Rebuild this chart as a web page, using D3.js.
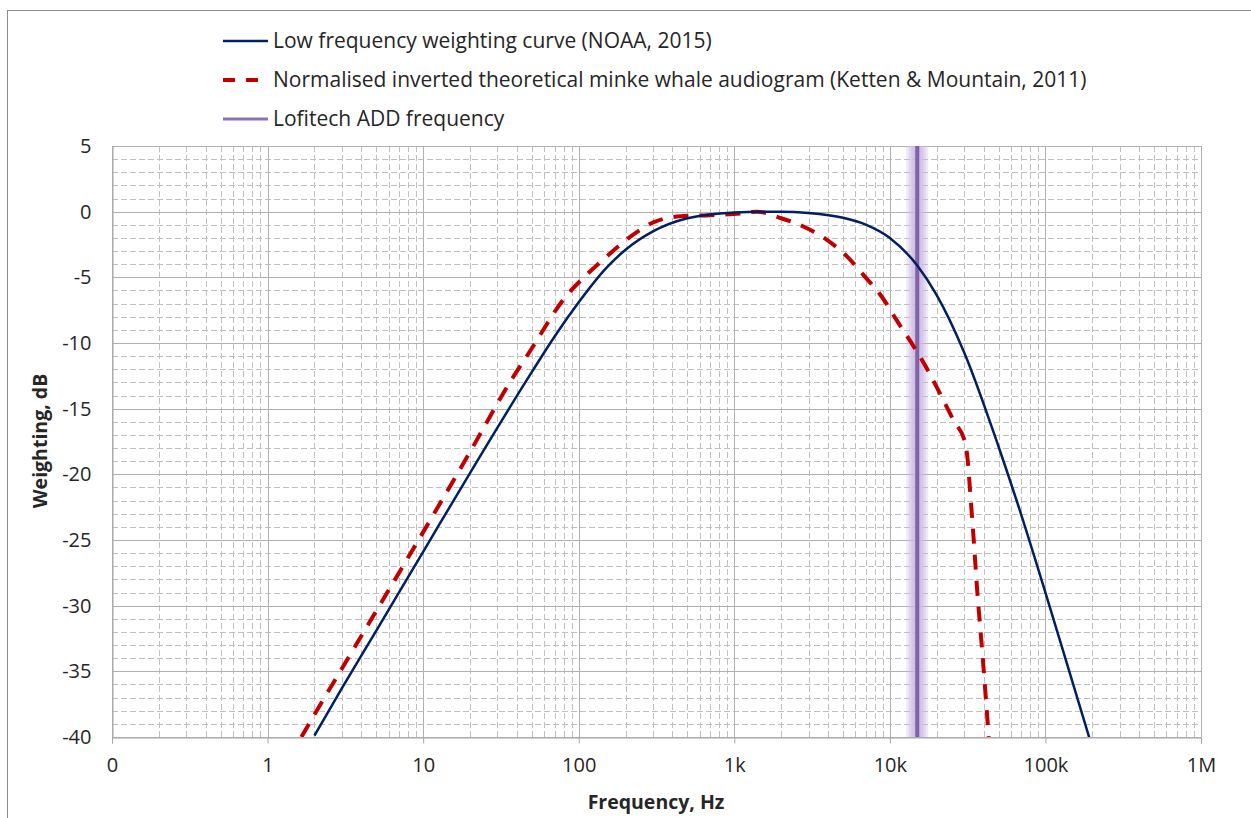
<!DOCTYPE html>
<html>
<head>
<meta charset="utf-8">
<script src="https://cdn.jsdelivr.net/npm/d3@7"></script>
<style>
  body { margin: 0; background: #fff; }
  text { font-family: "Open Sans", "Noto Sans", sans-serif; fill: #262626; }
</style>
</head>
<body>
<div id="chart"></div>
<script>
// Data
var noaaFreq = [2, 3, 5, 10, 20, 50, 70, 100, 150, 200, 300, 500, 1000, 1500, 2000, 3000, 5000, 7000, 10000, 15000, 20000, 30000, 50000, 70000, 100000, 150000, 200000];
var noaaDb = [-39.9, -36.3, -31.9, -25.9, -19.9, -12.2, -9.5, -6.9, -4.3, -2.9, -1.5, -0.5, -0.06, 0, 0, -0.1, -0.46, -0.98, -2.0, -4.1, -6.35, -10.7, -17.9, -23.1, -29.0, -35.9, -40.8];

var minkeFreq = [1.65, 2, 3, 5, 10, 20, 36.5, 50, 82, 108, 152, 215, 304, 450, 700, 1100, 1400, 2000, 2800, 4000, 5300, 6800, 8900, 11100, 14300, 17400, 21100, 25700, 30500, 31500, 33000, 34600, 36400, 39200, 43200];
var minkeDb = [-40, -38.3, -34.8, -30.4, -24.4, -18.3, -12.9, -10.4, -6.5, -5.0, -3.4, -1.9, -0.8, -0.35, -0.27, -0.14, 0, -0.5, -1.15, -2.2, -3.4, -4.85, -6.5, -8.3, -10.3, -12.0, -13.9, -15.9, -17.6, -18.7, -21.7, -25.0, -28.8, -33.4, -40];

var addFreq = 15000;

var xTickValues = [0.1, 1, 10, 100, 1000, 10000, 100000, 1000000];
var xTickLabels = ["0", "1", "10", "100", "1k", "10k", "100k", "1M"];
var yTickValues = [-40, -35, -30, -25, -20, -15, -10, -5, 0, 5];

var legendLabels = [
  "Low frequency weighting curve (NOAA, 2015)",
  "Normalised inverted theoretical minke whale audiogram (Ketten & Mountain, 2011)",
  "Lofitech ADD frequency"
];

// Set up SVG
var svgWidth = 1251;
var svgHeight = 818;
var plot = { left: 112, right: 1201, top: 146, bottom: 737 };

var svg = d3.select("#chart")
  .append("svg")
  .attr("width", svgWidth)
  .attr("height", svgHeight);

// outer chart border (runs off the page on the right and bottom)
svg.append("rect")
  .attr("x", 7.5).attr("y", 10.5)
  .attr("width", 1300).attr("height", 900)
  .attr("fill", "none")
  .attr("stroke", "#8c8c8c");

var x = d3.scaleLog().domain([0.1, 1e6]).range([plot.left, plot.right]);
var y = d3.scaleLinear().domain([-40, 5]).range([plot.bottom, plot.top]);

// Grid
var grid = svg.append("g");

var minorX = [];
for (var d = 0.1; d < 1e6; d *= 10) {
  for (var k = 2; k <= 9; k++) minorX.push(d * k);
}
var minorY = d3.range(-40, 6).filter(v => v % 5 !== 0);

grid.selectAll(".minor-x").data(minorX).enter().append("line")
  .attr("x1", d => Math.round(x(d)) + 0.5).attr("x2", d => Math.round(x(d)) + 0.5)
  .attr("y1", plot.top).attr("y2", plot.bottom)
  .attr("stroke", "#c0c0c0").attr("stroke-dasharray", "6,3");

grid.selectAll(".minor-y").data(minorY).enter().append("line")
  .attr("y1", d => Math.round(y(d)) + 0.5).attr("y2", d => Math.round(y(d)) + 0.5)
  .attr("x1", plot.left).attr("x2", plot.right)
  .attr("stroke", "#c0c0c0").attr("stroke-dasharray", "6,3");

grid.selectAll(".major-x").data(xTickValues).enter().append("line")
  .attr("x1", d => Math.round(x(d)) + 0.5).attr("x2", d => Math.round(x(d)) + 0.5)
  .attr("y1", plot.top).attr("y2", plot.bottom)
  .attr("stroke", "#b0b0b0");

grid.selectAll(".major-y").data(yTickValues).enter().append("line")
  .attr("y1", d => Math.round(y(d)) + 0.5).attr("y2", d => Math.round(y(d)) + 0.5)
  .attr("x1", plot.left).attr("x2", plot.right)
  .attr("stroke", "#b0b0b0");

// Axes
var bottomAxis = d3.axisBottom(x)
  .tickValues(xTickValues)
  .tickFormat((d, i) => xTickLabels[i])
  .tickSize(6)
  .tickPadding(14);

var xAxis = svg.append("g")
  .attr("transform", `translate(0, ${plot.bottom + 0.5})`)
  .call(bottomAxis);
xAxis.select(".domain").attr("stroke", "#a6a6a6");
xAxis.selectAll(".tick line").attr("stroke", "#a6a6a6");
xAxis.selectAll("text").style("font-size", "20px").attr("fill", "#262626");

var leftAxis = d3.axisLeft(y)
  .tickValues(yTickValues)
  .tickFormat(d => String(d))
  .tickSize(0)
  .tickPadding(21);

var yAxis = svg.append("g")
  .attr("transform", `translate(${plot.left + 0.5}, 0)`)
  .call(leftAxis);
yAxis.select(".domain").attr("stroke", "#a6a6a6");
yAxis.selectAll("text").style("font-size", "20px").attr("fill", "#262626");

// Axis titles
svg.append("text")
  .attr("x", 656).attr("y", 809)
  .attr("text-anchor", "middle")
  .style("font-size", "19.5px").style("font-weight", "bold")
  .text("Frequency, Hz");

svg.append("text")
  .attr("transform", "translate(47, 441) rotate(-90)")
  .attr("text-anchor", "middle")
  .style("font-size", "19.5px").style("font-weight", "bold")
  .text("Weighting, dB");

// Clip to plot area
svg.append("clipPath").attr("id", "plot-clip")
  .append("rect")
  .attr("x", plot.left).attr("y", plot.top)
  .attr("width", plot.right - plot.left).attr("height", plot.bottom - plot.top);

var series = svg.append("g").attr("clip-path", "url(#plot-clip)");

// Lofitech ADD frequency band (soft glow + core line)
var addX = x(addFreq);
[[22, 0.3], [17, 0.35], [12, 0.45], [7, 0.55]].forEach(function(g) {
  series.append("line")
    .attr("x1", addX).attr("x2", addX)
    .attr("y1", plot.top).attr("y2", plot.bottom)
    .attr("stroke", "#c9b6e6")
    .attr("stroke-width", g[0])
    .attr("stroke-opacity", g[1]);
});
series.append("line")
  .attr("x1", addX).attr("x2", addX)
  .attr("y1", plot.top).attr("y2", plot.bottom)
  .attr("stroke", "#8064a2")
  .attr("stroke-width", 4);

var line = d3.line()
  .x(d => x(d[0]))
  .y(d => y(d[1]))
  .curve(d3.curveMonotoneX);

var minkeData = d3.zip(minkeFreq, minkeDb);
var noaaData = d3.zip(noaaFreq, noaaDb);

series.append("path")
  .datum(minkeData)
  .attr("d", line)
  .attr("fill", "none")
  .attr("stroke", "#c00000")
  .attr("stroke-width", 4)
  .attr("stroke-dasharray", "15,11");

series.append("path")
  .datum(noaaData)
  .attr("d", line)
  .attr("fill", "none")
  .attr("stroke", "#002060")
  .attr("stroke-width", 2.5);

// Legend
var legendY = [41, 80, 119];
var legend = svg.append("g");

legend.append("line")
  .attr("x1", 223).attr("x2", 268).attr("y1", legendY[0]).attr("y2", legendY[0])
  .attr("stroke", "#002060").attr("stroke-width", 2.5);
legend.append("line")
  .attr("x1", 223).attr("x2", 268).attr("y1", legendY[1]).attr("y2", legendY[1])
  .attr("stroke", "#c00000").attr("stroke-width", 4)
  .attr("stroke-dasharray", "12,11");
legend.append("line")
  .attr("x1", 223).attr("x2", 268).attr("y1", legendY[2]).attr("y2", legendY[2])
  .attr("stroke", "#8c74b4").attr("stroke-width", 3);

legend.selectAll(".legend-text").data(legendLabels).enter().append("text")
  .attr("x", 273)
  .attr("y", (d, i) => legendY[i] + 7)
  .style("font-size", "21px")
  .text(d => d);
</script>
</body>
</html>
